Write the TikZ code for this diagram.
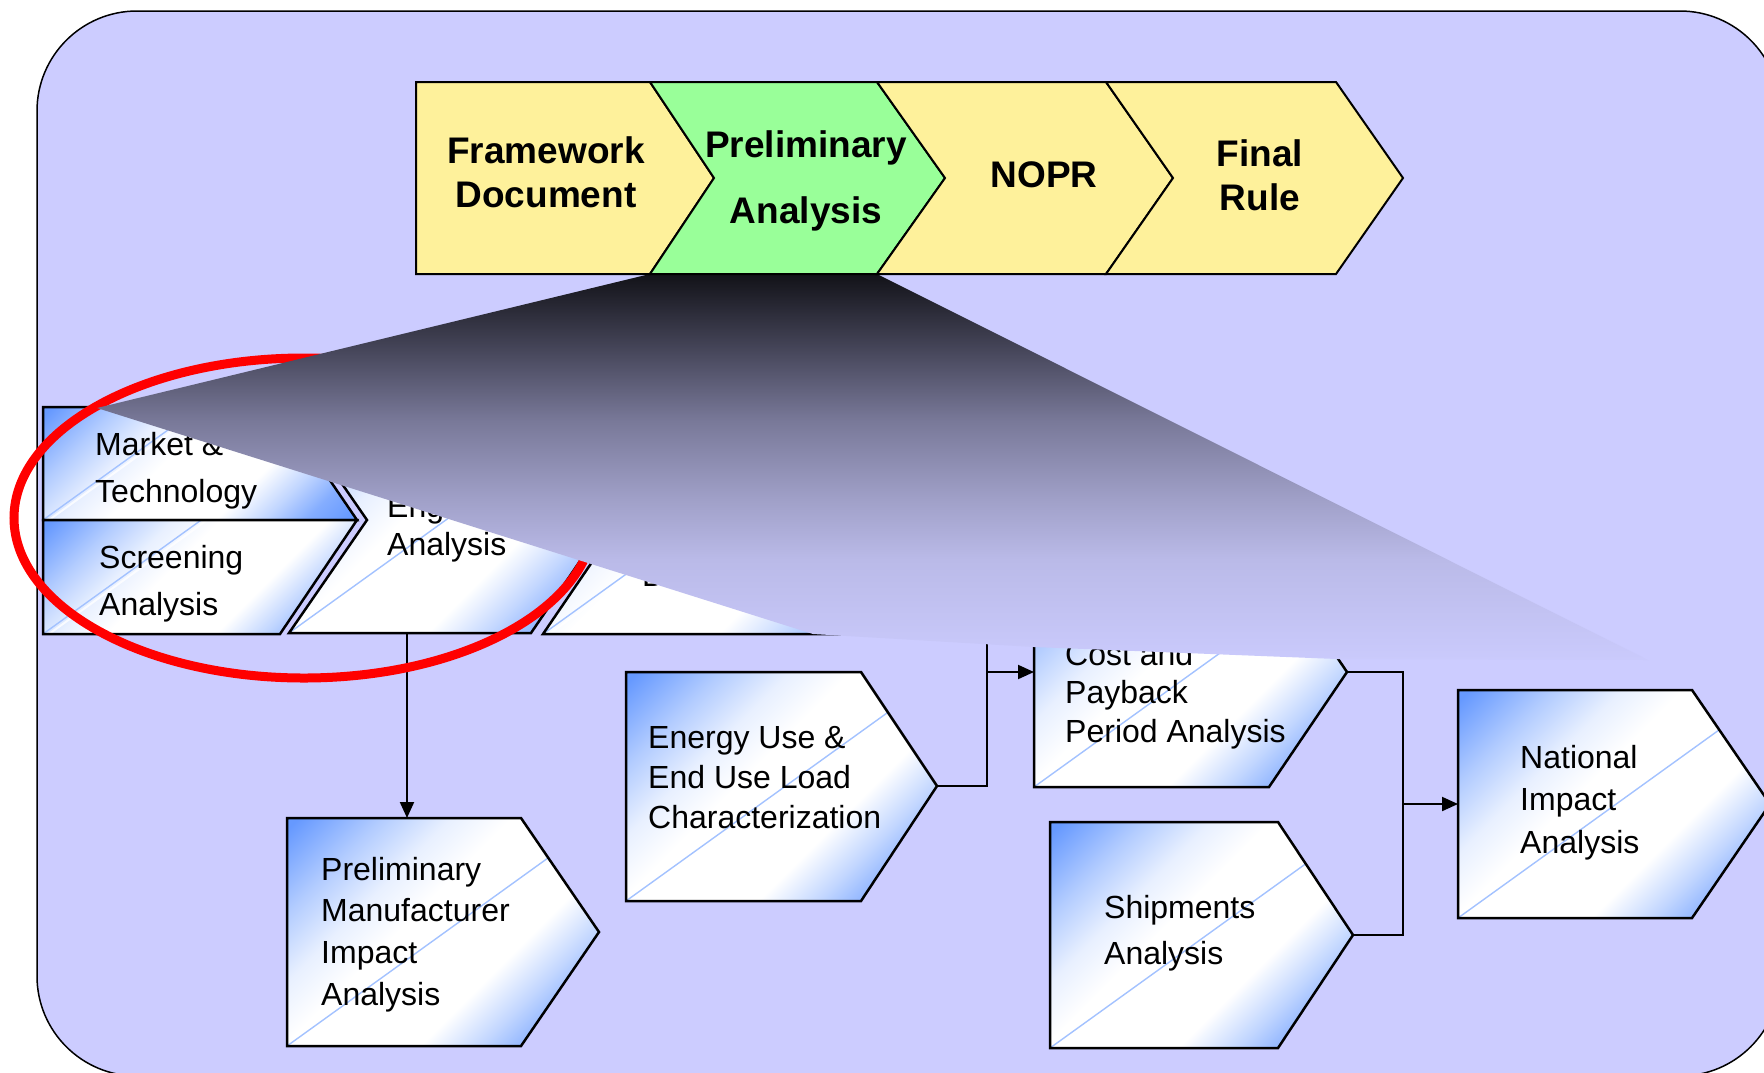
\documentclass[tikz,border=0pt]{standalone}
\usepackage{fontspec}
\setmainfont{Liberation Sans}
\usetikzlibrary{arrows.meta}

\definecolor{paper}{RGB}{204,204,255}
\definecolor{stageyellow}{RGB}{254,241,155}
\definecolor{stagegreen}{RGB}{153,255,153}
\definecolor{gblue}{RGB}{102,153,255}
\definecolor{ringred}{RGB}{255,0,0}
\definecolor{zA}{RGB}{202,202,252}
\definecolor{zB}{RGB}{186,186,232}
\definecolor{zC}{RGB}{160,160,200}
\definecolor{zD}{RGB}{120,120,152}
\definecolor{zE}{RGB}{70,70,90}
\definecolor{zF}{RGB}{18,18,24}

% diagonal glass fill: blue in the upper-left and lower-right corners
\pgfdeclarehorizontalshading{glass}{100bp}{color(0bp)=(gblue); color(16bp)=(gblue);
  color(27bp)=(gblue!50!white); color(36bp)=(gblue!15!white); color(44bp)=(white);
  color(62bp)=(white); color(70bp)=(gblue!40!white); color(77bp)=(gblue!80!white);
  color(84bp)=(gblue); color(100bp)=(gblue)}
% dark-to-light fill of the magnifying callout
\pgfdeclareverticalshading{zoomfade}{100bp}{color(0bp)=(zA); color(25bp)=(zA);
  color(38bp)=(zB); color(45.8bp)=(zC); color(56.1bp)=(zD); color(65.2bp)=(zE);
  color(75bp)=(zF); color(100bp)=(zF)}

\newcommand{\leftlines}[1]{\begin{tabular}[t]{@{}l@{}}#1\end{tabular}}
\newcommand{\midlines}[1]{\begin{tabular}[t]{@{}c@{}}#1\end{tabular}}

% shaded step box with a light streak, then its outline
\newcommand{\glassbox}[2]{%
  \begin{scope}
    \clip #1;
    \path[shading=glass, shading angle=-45] #1;
    \draw[streaklite] #2 ++(6,0) -- ++(440,-317);
    \draw[streak] #2 -- ++(440,-317);
  \end{scope}
  \draw[boxline] #1;}

\begin{document}
\begin{tikzpicture}[x=1pt, y=-1pt,
  stage/.style={draw=black, line width=2pt, line join=miter},
  stagetext/.style={font=\fontsize{37}{44}\selectfont\bfseries, inner sep=0pt, anchor=base},
  boxtext/.style={font=\fontsize{32}{40}\selectfont, inner sep=0pt, anchor=base west},
  boxline/.style={draw=black, line width=2.5pt, line join=miter},
  streak/.style={draw=gblue!60!white, line width=1.4pt},
  streaklite/.style={draw=white, line width=2pt, opacity=0.8},
  link/.style={draw=black, line width=2pt, -{Triangle[length=16pt,width=14pt]}},
  wire/.style={draw=black, line width=2pt},
  ring/.style={draw=ringred, line width=9pt}]

\useasboundingbox (0,0) rectangle (1764,1072);
\fill[white] (0,0) rectangle (1764,1072);
\clip (0,0) rectangle (1764,1072);

% panel
\path[fill=paper, draw=black, line width=1.5pt, rounded corners=100pt] (37,11) rectangle (1780,1076);

% analysis steps of the preliminary stage
\glassbox{(43,407) -- (280,407) -- (357,520) -- (43,520) -- cycle}{(43,520)}
\glassbox{(43,520) -- (357,520) -- (280,634) -- (43,634) -- cycle}{(43,634)}
\glassbox{(289,407) -- (531,407) -- (608,520) -- (531,633) -- (289,633) -- (367,520) -- cycle}{(289,633)}
\glassbox{(543,408) -- (840,408) -- (917,521) -- (840,634) -- (543,634) -- (620,521) -- cycle}{(543,634)}
\glassbox{(1034,557) -- (1269,557) -- (1347,672) -- (1269,787) -- (1034,787) -- cycle}{(1034,787)}
\glassbox{(626,672) -- (861,672) -- (937,786) -- (861,901) -- (626,901) -- cycle}{(626,901)}
\glassbox{(287,818) -- (521,818) -- (599,932) -- (521,1046) -- (287,1046) -- cycle}{(287,1046)}
\glassbox{(1050,822) -- (1278,822) -- (1353,935) -- (1278,1048) -- (1050,1048) -- cycle}{(1050,1048)}
\glassbox{(1458,690) -- (1692,690) -- (1770,804) -- (1692,918) -- (1458,918) -- cycle}{(1458,918)}

\node[boxtext] (mkt) at (95,455) {\leftlines{Market \&\\[7pt]Technology}};
\node[boxtext] (scr) at (99,568) {\leftlines{Screening\\[7pt]Analysis}};
\node[boxtext] (eng) at (387,517) {\leftlines{Engineering\\[-2pt]Analysis}};
\node[boxtext] (mkp) at (642,510) {\leftlines{Markups for\\[-2pt]Equipment Price\\[-2pt]Determination}};
\node[boxtext] (lcc) at (1065,665) {\leftlines{Cost and\\[-1.5pt]Payback\\[-1.5pt]Period Analysis}};
\node[boxtext] (eu) at (648,748) {\leftlines{Energy Use \&\\End Use Load\\Characterization}};
\node[boxtext] (mia) at (321,880) {\leftlines{Preliminary\\[1.7pt]Manufacturer\\[1.7pt]Impact\\[1.7pt]Analysis}};
\node[boxtext] (ship) at (1104,918) {\leftlines{Shipments\\[6pt]Analysis}};
\node[boxtext] (nia) at (1520,768) {\leftlines{National\\[2.5pt]Impact\\[2.5pt]Analysis}};

% connector ends
\coordinate (eng-s) at (407,633);
\coordinate (mia-n) at (407,818);
\coordinate (mkp-s) at (987,600);
\coordinate (eu-e) at (937,786);
\coordinate (lcc-w) at (1034,672);
\coordinate (lcc-e) at (1347,672);
\coordinate (ship-e) at (1353,935);
\coordinate (nia-join) at (1403,804);
\coordinate (nia-w) at (1458,804);

% flow connectors
\draw[link] (eng-s) -- (mia-n);
\draw[wire] (mkp-s) -- (mkp-s |- lcc-w);
\draw[link] (eu-e) -- ++(50,0) |- (lcc-w);
\draw[link] (lcc-e) -| (nia-join) -- (nia-w);
\draw[wire] (ship-e) -| (nia-join);

% highlight ring
\draw[ring] (304,518) ellipse [x radius=290pt, y radius=160pt];

% magnifying callout from the preliminary stage
\path[shading=zoomfade] (650,274) -- (877,274) -- (1648,660) -- (1337,659) -- (1034,647)
  -- (813,634) -- (97,408) -- cycle;

% rulemaking stages
\path[stage, fill=stageyellow] (416,82) -- (650,82) -- (714,178) -- (650,274) -- (416,274) -- cycle;
\path[stage, fill=stagegreen] (650,82) -- (877,82) -- (945,178) -- (877,274) -- (650,274) -- (714,178) -- cycle;
\path[stage, fill=stageyellow] (877,82) -- (1106,82) -- (1173,178) -- (1106,274) -- (877,274) -- (945,178) -- cycle;
\path[stage, fill=stageyellow] (1106,82) -- (1336,82) -- (1403,178) -- (1336,274) -- (1106,274) -- (1173,178) -- cycle;

\node[stagetext] (fw) at (546,163) {\midlines{Framework\\Document}};
\node[stagetext] (pa) at (806,157) {\midlines{Preliminary\\[22pt]Analysis}};
\node[stagetext] (nopr) at (1044,187) {NOPR};
\node[stagetext] (fr) at (1260,166) {\midlines{Final\\Rule}};
\end{tikzpicture}
\end{document}
